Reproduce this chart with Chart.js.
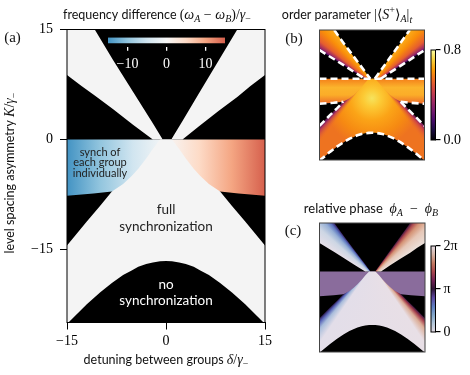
<!DOCTYPE html>
<html>
<head>
<meta charset="utf-8">
<title>synchronization regimes</title>
<script src="https://cdn.jsdelivr.net/npm/chart.js@4.4.1/dist/chart.umd.min.js"></script>
<style>
  html, body { margin: 0; padding: 0; background: #fff; }
  #page { position: relative; width: 470px; height: 375px; overflow: hidden; }
  #page canvas { position: absolute; left: 0; top: 0; }
</style>
</head>
<body>
<div id="page">
  <canvas id="panelA" width="470" height="375"></canvas>
  <canvas id="barA" width="470" height="375"></canvas>
  <canvas id="panelB" width="470" height="375"></canvas>
  <canvas id="barB" width="470" height="375"></canvas>
  <canvas id="panelC" width="470" height="375"></canvas>
  <canvas id="barC" width="470" height="375"></canvas>
</div>
<script>
// axis ranges and ticks
const deltaRange = [-15, 15];
const kRange = [-25, 15];
const deltaTicks = [-15, 0, 15];
const kTicks = [-15, 0, 15];

// colour bars
const freqRange = [-15, 15];
const freqTicks = [-10, 0, 10];
const orderRange = [0, 0.8];
const orderTicks = [0, 0.8];
const phaseRange = [0, 2 * Math.PI];
const phaseTicks = [0, Math.PI, 2 * Math.PI];
const phaseLabels = ['0', 'π', '2π'];

// region edges: K/γ- at detuning δ/γ-
// upper-left synchronized band (K > 0)
const bandLeftD = [-15, -12.8, -10.8, -8, -5, -2, -0.5];
const bandLeftUpper = [15, 15, 15, 10.8, 6.5, 2.2, 0];
const bandLeftLower = [8.8, 7.3, 6.0, 4.1, 2.0, 0, 0];
// upper-right band
const bandRightD = [0.8, 2.5, 5, 8, 10.8, 12.8, 15];
const bandRightUpper = [0, 2.5, 6.3, 10.8, 15, 15, 15];
const bandRightLower = [0, 0, 1.8, 3.9, 5.8, 7.3, 8.8];
// lower edge of the "each group individually" strip (K < 0)
const stripD = [-15, -11, -8.2, 8.2, 11, 15];
const stripLower = [-7.7, -7.4, -7.1, -7.1, -7.4, -7.7];
// full synchronization: upper edge, and the top of the "no synchronization" dome
const syncD = [-15, -12, -10, -8.2, -6.5, -5.2, -4.2, -3, -2, -0.9, 0, 0.9, 2, 3, 4.2, 5.2, 6.5, 8.2, 10, 12, 15];
const syncUpper = [-14.5, -11.2, -9.1, -7.1, -6.1, -5.0, -4.0, -2.6, -1.3, 0, 0, 0, -1.3, -2.6, -4.0, -5.0, -6.1, -7.1, -9.1, -11.2, -14.5];
const domeUpper = [-25.2, -22.5, -20.9, -19.6, -18.5, -17.9, -17.4, -17.0, -16.8, -16.65, -16.6, -16.65, -16.8, -17.0, -17.4, -17.9, -18.5, -19.6, -20.9, -22.5, -25.2];

// colour maps
const rdbu = ['#4393c3', '#92c5de', '#d1e5f0', '#f7f7f7', '#fddbc7', '#f4a582', '#d6604d'];
const inferno = ['#000004', '#1b0c41', '#4a0c6b', '#781c6d', '#a52c60', '#cf4446', '#ed6925', '#fb9b06', '#f7d13d', '#fcffa4'];
const twilight = ['#e2d9e2', '#b3c7d9', '#82a6ca', '#5e7dc1', '#5d47a0', '#2f1436', '#722154', '#a8454d', '#c47a62', '#d6b4a6', '#e2d9e2'];

const W = 470, H = 375;
const SERIF = '"Liberation Serif", "DejaVu Serif", serif';
const SANS = 'Lato, "Open Sans", sans-serif';
const WHITE = '#f4f4f4';

const boxA = {l: 67, t: 29.5, r: 265, b: 322.5};
const boxB = {l: 319.5, t: 30, r: 424.5, b: 160};
const boxC = {l: 319.5, t: 223, r: 425, b: 352};
const barBoxA = {l: 108, t: 37.3, r: 225, b: 46.7};
const barBoxB = {l: 431, t: 50, r: 435.5, b: 140};
const barBoxC = {l: 431, t: 246, r: 435.5, b: 332};

function pts(xs, ys, from = 0, to = xs.length - 1) {
  const out = [];
  for (let i = from; i <= to; i++) out.push({x: xs[i], y: ys[i]});
  return out;
}
function at(xs, ys, i) { return {x: xs[i], y: ys[i]}; }
function meet(a, b, c, d) {
  const den = (a.x - b.x) * (c.y - d.y) - (a.y - b.y) * (c.x - d.x);
  const t = ((a.x - c.x) * (c.y - d.y) - (a.y - c.y) * (c.x - d.x)) / den;
  return {x: a.x + t * (b.x - a.x), y: a.y + t * (b.y - a.y)};
}
function pix(chart, p) {
  return {x: chart.scales.x.getPixelForValue(p.x), y: chart.scales.y.getPixelForValue(p.y)};
}
function even(colors) { return colors.map((c, i) => [i / (colors.length - 1), c]); }
function addStops(g, stops) { stops.forEach(([t, c]) => g.addColorStop(t, c)); return g; }
function linGrad(chart, p0, p1, stops) {
  const a = pix(chart, p0), b = pix(chart, p1);
  return addStops(chart.ctx.createLinearGradient(a.x, a.y, b.x, b.y), stops);
}
function radial(chart, center, radius, stops) {
  const c = pix(chart, center);
  const r = Math.abs(chart.scales.x.getPixelForValue(radius) - chart.scales.x.getPixelForValue(0));
  return addStops(chart.ctx.createRadialGradient(c.x, c.y, 0, c.x, c.y, r), stops);
}
// colour changes with the angle around apex, from edge a (t=0) to edge b (t=1)
function conicFill(chart, apex, a, b, stops) {
  const c = pix(chart, apex), pa = pix(chart, a), pb = pix(chart, b);
  const TAU = Math.PI * 2, m = 0.06;
  const angA = Math.atan2(pa.y - c.y, pa.x - c.x), angB = Math.atan2(pb.y - c.y, pb.x - c.x);
  let span = ((angB - angA) % TAU + TAU) % TAU, start = angA, flip = false;
  if (span > Math.PI) { span = TAU - span; start = angB; flip = true; }
  const g = chart.ctx.createConicGradient(start - m, c.x, c.y);
  const list = stops.map(([t, col]) => [flip ? 1 - t : t, col]).sort((p, q) => p[0] - q[0]);
  g.addColorStop(0, list[0][1]);
  list.forEach(([t, col]) => g.addColorStop((m + t * span) / TAU, col));
  g.addColorStop(Math.min(1, (2 * m + span) / TAU), list[list.length - 1][1]);
  return g;
}
const whenReady = fn => ctx => ctx.chart.chartArea ? fn(ctx.chart) : 'rgba(0,0,0,0)';

const leftApex = meet(at(bandLeftD, bandLeftLower, 0), at(bandLeftD, bandLeftLower, 5),
                      at(bandLeftD, bandLeftUpper, 2), at(bandLeftD, bandLeftUpper, 6));
const rightApex = meet(at(bandRightD, bandRightLower, 1), at(bandRightD, bandRightLower, 6),
                       at(bandRightD, bandRightUpper, 0), at(bandRightD, bandRightUpper, 4));
const syncApex = meet(at(syncD, syncUpper, 0), at(syncD, syncUpper, 3),
                      at(syncD, syncUpper, 17), at(syncD, syncUpper, 20));
const leftOuter = at(bandLeftD, bandLeftLower, 0), leftInner = at(bandLeftD, bandLeftUpper, 2);
const rightOuter = at(bandRightD, bandRightLower, 6), rightInner = at(bandRightD, bandRightUpper, 4);
const syncLeft = at(syncD, syncUpper, 0), syncRight = at(syncD, syncUpper, 20);

function regionSets(st) {
  const sets = [];
  const add = o => sets.push(Object.assign({pointRadius: 0, borderWidth: 0, borderColor: 'rgba(0,0,0,0)', fill: false}, o)) - 1;
  add({data: [{x: deltaRange[0], y: kRange[1]}, {x: deltaRange[1], y: kRange[1]}], fill: 'start', backgroundColor: st.bg, order: 100});
  add({data: pts(stripD, stripLower), fill: {value: 0}, backgroundColor: st.strip, order: 90});
  const lLow = add({data: pts(bandLeftD, bandLeftLower), order: 85});
  add({data: pts(bandLeftD, bandLeftUpper), fill: lLow, backgroundColor: st.left, order: 80});
  const rLow = add({data: pts(bandRightD, bandRightLower), order: 85});
  add({data: pts(bandRightD, bandRightUpper), fill: rLow, backgroundColor: st.right, order: 80});
  const dome = add({data: pts(syncD, domeUpper), order: 75});
  add({data: pts(syncD, syncUpper), fill: dome, backgroundColor: st.sync, order: 70});
  if (st.syncEdge) add({data: pts(syncD, syncUpper), fill: dome, backgroundColor: st.syncEdge, order: 65});
  return sets;
}

const styleA = {
  bg: '#000',
  strip: whenReady(ch => linGrad(ch, {x: freqRange[0], y: 0}, {x: freqRange[1], y: 0}, even(rdbu))),
  left: WHITE, right: WHITE, sync: WHITE
};
const styleB = {
  bg: '#000',
  strip: whenReady(ch => linGrad(ch, {x: 0, y: 0}, {x: 0, y: stripLower[0]},
    [[0, '#f47f1a'], [0.35, '#fbb42c'], [0.65, '#fbad28'], [1, '#ec6a2a']])),
  left: whenReady(ch => conicFill(ch, leftApex, leftOuter, leftInner,
    [[0, '#3d0965'], [0.1, '#9b2964'], [0.3, '#e65d2f'], [0.65, '#f98e09'], [1, '#fbae1c']])),
  right: whenReady(ch => conicFill(ch, rightApex, rightOuter, rightInner,
    [[0, '#3d0965'], [0.1, '#9b2964'], [0.3, '#e65d2f'], [0.65, '#f98e09'], [1, '#fbae1c']])),
  sync: whenReady(ch => radial(ch, {x: 0, y: -6}, 14,
    [[0, '#f6e35d'], [0.18, '#fcca35'], [0.45, '#fba417'], [0.75, '#f68a12'], [1, '#ee7320']])),
  syncEdge: whenReady(ch => conicFill(ch, syncApex, syncLeft, syncRight,
    [[0, '#4a0c6b'], [0.03, 'rgba(181,54,90,0.85)'], [0.09, 'rgba(240,110,40,0)'],
     [0.91, 'rgba(240,110,40,0)'], [0.97, 'rgba(200,60,75,0.8)'], [1, '#6a176e']]))
};
const styleC = {
  bg: '#000',
  strip: 'rgb(138,108,156)',
  left: whenReady(ch => conicFill(ch, leftApex, leftOuter, leftInner,
    [[0, '#e6dfe8'], [0.45, '#cdd6e4'], [0.72, '#98b1d6'], [0.88, '#5f77c0'], [1, '#36206a']])),
  right: whenReady(ch => conicFill(ch, rightApex, rightOuter, rightInner,
    [[0, '#ebe0da'], [0.45, '#e6c7b7'], [0.72, '#d59476'], [0.88, '#ad4a4f'], [1, '#471741']])),
  sync: whenReady(ch => conicFill(ch, syncApex, syncLeft, syncRight,
    [[0, '#2d1b55'], [0.025, '#5a67b9'], [0.06, '#a9bddb'], [0.12, '#e3dee9'],
     [0.88, '#e8dfe6'], [0.94, '#dcae98'], [0.975, '#a8434f'], [1, '#3e1542']]))
};

const dash = data => ({data, borderColor: '#fff', borderWidth: 2.6, borderDash: [7, 4], fill: false, pointRadius: 0, order: 10});
const dashedB = [
  dash(pts(bandLeftD, bandLeftUpper, 2, 6)),
  dash(pts(bandLeftD, bandLeftLower, 0, 5)),
  dash(pts(bandRightD, bandRightUpper, 0, 4)),
  dash(pts(bandRightD, bandRightLower, 1, 6)),
  dash([{x: deltaRange[0], y: 0}, {x: deltaRange[1], y: 0}]),
  dash(pts(stripD, stripLower, 0, 2)),
  dash(pts(stripD, stripLower, 3, 5)),
  dash(pts(syncD, syncUpper, 0, 3)),
  dash(pts(syncD, syncUpper, 17, 20)),
  dash(pts(syncD, domeUpper))
];

// ---------- helpers for charts ----------
function base(extra) {
  return Object.assign({
    responsive: false, animation: false, events: [], devicePixelRatio: 1,
    plugins: {legend: {display: false}, tooltip: {enabled: false}, title: {display: false}},
    elements: {point: {radius: 0}, line: {borderWidth: 0, tension: 0}}
  }, extra);
}
const hidden = range => ({type: 'linear', min: range[0], max: range[1], display: false});
const minus = v => v < 0 ? '\u2212' + Math.abs(v) : String(v);
const fixTicks = list => s => { s.ticks = list.map(v => ({value: v})); };
function frame(color) {
  return {id: 'frame', afterDatasetsDraw(chart) {
    const a = chart.chartArea, ctx = chart.ctx;
    ctx.save(); ctx.strokeStyle = color; ctx.lineWidth = 1;
    ctx.strokeRect(a.left, a.top, a.right - a.left, a.bottom - a.top);
    ctx.restore();
  }};
}
function texts(draw) {
  return {id: 'texts', afterDraw(chart) { const ctx = chart.ctx; ctx.save(); draw(ctx); ctx.restore(); }};
}
function rich(ctx, parts, x, y, color) {
  ctx.textBaseline = 'alphabetic'; ctx.textAlign = 'left'; ctx.fillStyle = color || '#111';
  let w = 0;
  parts.forEach(p => { ctx.font = p[1]; w += ctx.measureText(p[0]).width; });
  let cx = x - w / 2;
  parts.forEach(p => { ctx.font = p[1]; ctx.fillText(p[0], cx, y + (p[2] || 0)); cx += ctx.measureText(p[0]).width; });
}
function lines(ctx, list, x, y, step, font, color) {
  ctx.font = font; ctx.fillStyle = color; ctx.textAlign = 'center'; ctx.textBaseline = 'middle';
  list.forEach((t, i) => ctx.fillText(t, x, y + i * step));
}

const fs = {
  sans: `12.5px ${SANS}`,
  sansC: `13px ${SANS}`,
  rm: `14px ${SERIF}`,
  it: `italic 14px ${SERIF}`,
  sub: `italic 10px ${SERIF}`,
  subrm: `10px ${SERIF}`
};
const titleA = [['frequency difference ', fs.sans], ['(', fs.rm], ['ω', fs.it], ['A', fs.sub, 3], [' − ', fs.rm],
  ['ω', fs.it], ['B', fs.sub, 3], [')/', fs.rm], ['γ', fs.it], ['−', fs.subrm, 3]];
const titleB = [['order parameter ', fs.sans], ['|⟨', fs.rm], ['S', fs.it], ['+', fs.subrm, -6], ['⟩', fs.rm],
  ['A', fs.sub, 3], ['|', fs.rm], ['t', fs.sub, 4]];
const titleC = [['relative phase  ', fs.sansC], ['ϕ', fs.it], ['A', fs.sub, 3], ['  −  ', fs.rm], ['ϕ', fs.it], ['B', fs.sub, 3]];
const xLabel = [['detuning between groups ', fs.sans], ['δ', fs.it], ['/', fs.rm], ['γ', fs.it], ['−', fs.subrm, 3]];
const yLabel = [['level spacing asymmetry ', fs.sans], ['K', fs.it], ['/', fs.rm], ['γ', fs.it], ['−', fs.subrm, 3]];

const tickFont = {family: SERIF, size: 14};
function visibleAxis(range, ticks, size, horizontal) {
  return {
    type: 'linear', min: range[0], max: range[1], position: horizontal ? 'bottom' : 'left',
    afterFit: s => { if (horizontal) s.height = size; else s.width = size; },
    afterBuildTicks: fixTicks(ticks),
    ticks: {font: tickFont, color: '#000', padding: horizontal ? 3 : 7, autoSkip: false, maxRotation: 0, callback: minus},
    grid: {drawOnChartArea: false, tickLength: 7, color: '#000', lineWidth: 1},
    border: {display: true, color: '#000', width: 1}
  };
}

// ---------- panel (a) ----------
new Chart(document.getElementById('panelA'), {
  type: 'line',
  data: {datasets: regionSets(styleA)},
  options: base({
    layout: {padding: {left: boxA.l - 40, top: boxA.t, right: W - boxA.r, bottom: H - boxA.b - 30}},
    scales: {x: visibleAxis(deltaRange, deltaTicks, 30, true), y: visibleAxis(kRange, kTicks, 40, false)}
  }),
  plugins: [frame('#000'), texts(ctx => {
    rich(ctx, titleA, 157, 19);
    ctx.save(); ctx.translate(14, 173); ctx.rotate(-Math.PI / 2); rich(ctx, yLabel, 0, 0); ctx.restore();
    rich(ctx, xLabel, 166, 364);
    lines(ctx, ['(a)'], 12.5, 38, 0, `15px ${SERIF}`, '#111');
    lines(ctx, ['synch of', 'each group', 'individually'], 100, 152, 10.5, `11px ${SANS}`, '#222');
    lines(ctx, ['full', 'synchronization'], 166, 210, 16.5, `13.5px ${SANS}`, '#222');
    lines(ctx, ['no', 'synchronization'], 166, 285, 15.5, `13.5px ${SANS}`, '#fff');
  })]
});

new Chart(document.getElementById('barA'), {
  type: 'line',
  data: {datasets: [{data: [{x: freqRange[0], y: 1}, {x: freqRange[1], y: 1}], fill: {value: 0.36},
    backgroundColor: whenReady(ch => linGrad(ch, {x: freqRange[0], y: 0}, {x: freqRange[1], y: 0}, even(rdbu))),
    borderWidth: 0, pointRadius: 0}]},
  options: base({
    layout: {padding: {left: barBoxA.l, top: barBoxA.t, right: W - barBoxA.r, bottom: H - barBoxA.b - 25}},
    scales: {
      x: {type: 'linear', min: freqRange[0], max: freqRange[1], position: 'bottom',
        afterFit: s => { s.height = 25; }, afterBuildTicks: fixTicks(freqTicks),
        ticks: {font: tickFont, color: '#fff', padding: 5, autoSkip: false, maxRotation: 0, callback: minus},
        grid: {drawOnChartArea: false, tickLength: 4, color: '#fff', lineWidth: 1.3},
        border: {display: false}},
      y: hidden([0, 1])
    }
  })
});

// ---------- panel (b) ----------
new Chart(document.getElementById('panelB'), {
  type: 'line',
  data: {datasets: regionSets(styleB).concat(dashedB)},
  options: base({
    layout: {padding: {left: boxB.l, top: boxB.t, right: W - boxB.r, bottom: H - boxB.b}},
    scales: {x: hidden(deltaRange), y: hidden(kRange)}
  }),
  plugins: [frame('#444'), texts(ctx => {
    rich(ctx, titleB, 347, 19);
    lines(ctx, ['(b)'], 294, 39.5, 0, `15px ${SERIF}`, '#111');
  })]
});

function colourBar(id, box, range, ticks, stops, fmt) {
  return new Chart(document.getElementById(id), {
    type: 'line',
    data: {datasets: [{data: [{x: 0, y: range[1]}, {x: 1, y: range[1]}], fill: 'start',
      backgroundColor: whenReady(ch => linGrad(ch, {x: 0, y: range[0]}, {x: 0, y: range[1]}, even(stops))),
      borderWidth: 0, pointRadius: 0}]},
    options: base({
      layout: {padding: {left: box.l, top: box.t, right: W - box.r - 34, bottom: H - box.b}},
      scales: {
        x: hidden([0, 1]),
        y: {type: 'linear', position: 'right', min: range[0], max: range[1],
          afterFit: s => { s.width = 34; }, afterBuildTicks: fixTicks(ticks),
          ticks: {font: tickFont, color: '#000', padding: 3, autoSkip: false, callback: fmt},
          grid: {drawOnChartArea: false, tickLength: 5, color: '#000', lineWidth: 1.2},
          border: {display: true, color: '#000', width: 1}}
      }
    }),
    plugins: [frame('#000')]
  });
}
colourBar('barB', barBoxB, orderRange, orderTicks, inferno, v => v.toFixed(1));

// ---------- panel (c) ----------
new Chart(document.getElementById('panelC'), {
  type: 'line',
  data: {datasets: regionSets(styleC)},
  options: base({
    layout: {padding: {left: boxC.l, top: boxC.t, right: W - boxC.r, bottom: H - boxC.b}},
    scales: {x: hidden(deltaRange), y: hidden(kRange)}
  }),
  plugins: [frame('#444'), texts(ctx => {
    rich(ctx, titleC, 371, 213);
    lines(ctx, ['(c)'], 293, 231.5, 0, `15px ${SERIF}`, '#111');
  })]
});
colourBar('barC', barBoxC, phaseRange, phaseTicks, twilight, (v, i) => phaseLabels[i]);
</script>
</body>
</html>
